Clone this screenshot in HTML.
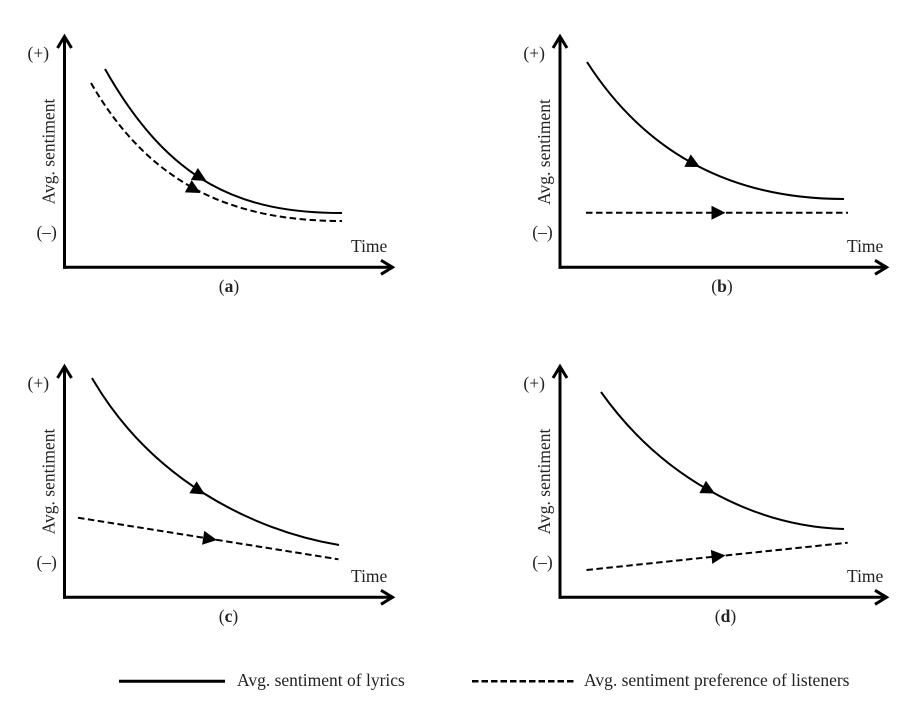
<!DOCTYPE html>
<html>
<head>
<meta charset="utf-8">
<style>
  html, body { margin:0; padding:0; background:#fff; }
  svg { display:block; }
  text { font-family: "Liberation Serif", "Times New Roman", serif; font-size:17.5px; fill:#222; }
</style>
</head>
<body>
<svg width="911" height="707" viewBox="0 0 911 707" xmlns="http://www.w3.org/2000/svg">
  <rect width="911" height="707" fill="#fff"/>

  <!-- ===== Axes ===== -->
  <g stroke="#000" stroke-width="3" fill="none" stroke-linejoin="miter">
    <!-- panel a -->
    <path d="M64.5,268.8 L64.5,36"/>
    <path d="M63,267.3 L393,267.3"/>
    <path d="M57.5,48 L64.5,36.5 L71.5,48"/>
    <path d="M381,260.3 L392.5,267.3 L381,274.3"/>
    <!-- panel b -->
    <path d="M560,268.8 L560,36"/>
    <path d="M558.5,267.3 L887,267.3"/>
    <path d="M553,48 L560,36.5 L567,48"/>
    <path d="M875,260.3 L886.5,267.3 L875,274.3"/>
    <!-- panel c -->
    <path d="M64.5,598.8 L64.5,366"/>
    <path d="M63,597.3 L393,597.3"/>
    <path d="M57.5,378 L64.5,366.5 L71.5,378"/>
    <path d="M381,590.3 L392.5,597.3 L381,604.3"/>
    <!-- panel d -->
    <path d="M560,598.8 L560,366"/>
    <path d="M558.5,597.3 L887,597.3"/>
    <path d="M553,378 L560,366.5 L567,378"/>
    <path d="M875,590.3 L886.5,597.3 L875,604.3"/>
  </g>

  <!-- ===== Curves ===== -->
  <g stroke="#000" stroke-width="2" fill="none">
    <path d="M105,69 C170,184 242,213 342,213"/>
    <path d="M587,62 C650,160 740,199 844,199"/>
    <path d="M92,378 C150,478 250,530 339,545"/>
    <path d="M601,392 C660,475 750,526 844,529"/>
  </g>
  <g stroke="#000" stroke-width="2" fill="none" stroke-dasharray="6.5 3.5">
    <path d="M91,83 C150,185 232,221 342,221"/>
    <path d="M586,212.7 L848,212.7"/>
    <path d="M78,517.7 L338.5,559.3"/>
    <path d="M586.5,570 L847.7,542.7"/>
  </g>

  <!-- ===== Arrowheads ===== -->
  <g fill="#000">
    <path d="M0,0 L-14,-7 L-14,7 Z" transform="translate(206.5,181) rotate(30)"/>
    <path d="M0,0 L-14,-7 L-14,7 Z" transform="translate(200.5,193) rotate(29)"/>
    <path d="M0,0 L-14,-7 L-14,7 Z" transform="translate(700,167) rotate(27)"/>
    <path d="M0,0 L-14,-7 L-14,7 Z" transform="translate(725.5,212.7)"/>
    <path d="M0,0 L-14,-7 L-14,7 Z" transform="translate(205,494.5) rotate(31)"/>
    <path d="M0,0 L-14,-7 L-14,7 Z" transform="translate(217,540) rotate(9.1)"/>
    <path d="M0,0 L-14,-7 L-14,7 Z" transform="translate(715,493.5) rotate(28)"/>
    <path d="M0,0 L-14,-7 L-14,7 Z" transform="translate(725.5,555.4) rotate(-6)"/>
  </g>

  <!-- ===== Labels ===== -->
  <text x="38.3" y="59" text-anchor="middle">(+)</text>
  <text x="46.7" y="238" text-anchor="middle">(–)</text>
  <text transform="translate(54.5,151.5) rotate(-90)" text-anchor="middle">Avg. sentiment</text>
  <text x="351" y="252">Time</text>
  <text x="229" y="292" text-anchor="middle">(<tspan font-weight="bold">a</tspan>)</text>

  <text x="534.2" y="59" text-anchor="middle">(+)</text>
  <text x="542.5" y="238" text-anchor="middle">(–)</text>
  <text transform="translate(550,152) rotate(-90)" text-anchor="middle">Avg. sentiment</text>
  <text x="847" y="252">Time</text>
  <text x="722" y="292" text-anchor="middle">(<tspan font-weight="bold">b</tspan>)</text>

  <text x="38.3" y="389" text-anchor="middle">(+)</text>
  <text x="46.7" y="568" text-anchor="middle">(–)</text>
  <text transform="translate(54.5,481.5) rotate(-90)" text-anchor="middle">Avg. sentiment</text>
  <text x="351" y="582">Time</text>
  <text x="228.5" y="622" text-anchor="middle">(<tspan font-weight="bold">c</tspan>)</text>

  <text x="534.2" y="389" text-anchor="middle">(+)</text>
  <text x="542.5" y="568" text-anchor="middle">(–)</text>
  <text transform="translate(550,481.5) rotate(-90)" text-anchor="middle">Avg. sentiment</text>
  <text x="847" y="582">Time</text>
  <text x="725.5" y="622" text-anchor="middle">(<tspan font-weight="bold">d</tspan>)</text>

  <!-- ===== Legend ===== -->
  <path d="M119,681.3 L225,681.3" stroke="#000" stroke-width="3" fill="none"/>
  <text x="237" y="686">Avg. sentiment of lyrics</text>
  <path d="M472,681.3 L575,681.3" stroke="#000" stroke-width="2.5" fill="none" stroke-dasharray="6.5 3"/>
  <text x="584" y="686">Avg. sentiment preference of listeners</text>
</svg>
</body>
</html>
